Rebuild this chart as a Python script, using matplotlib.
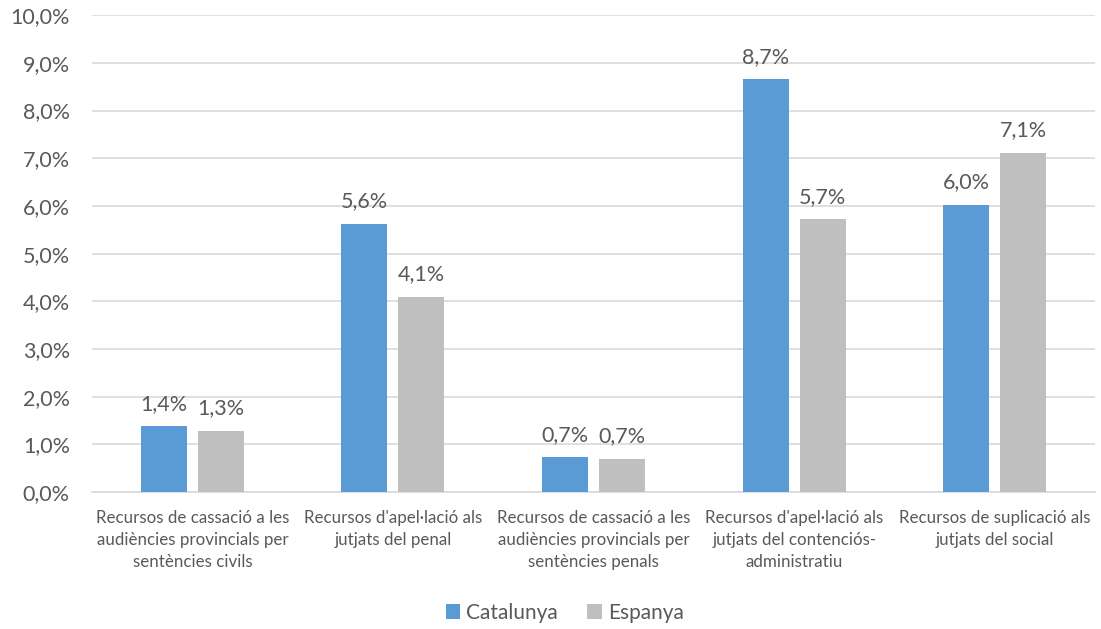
import numpy as np
import matplotlib
matplotlib.use("Agg")
import matplotlib.pyplot as plt
from matplotlib.ticker import FuncFormatter

# data (percent)
categories = [
    "Recursos de cassació a les\naudiències provincials per\nsentències civils",
    "Recursos d'apel·lació als\njutjats del penal",
    "Recursos de cassació a les\naudiències provincials per\nsentències penals",
    "Recursos d'apel·lació als\njutjats del contenciós-\nadministratiu",
    "Recursos de suplicació als\njutjats del social",
]
catalunya = [1.38, 5.62, 0.73, 8.66, 6.02]
espanya = [1.28, 4.09, 0.70, 5.72, 7.11]
series_names = ["Catalunya", "Espanya"]

BLUE = "#5B9BD5"
GREY = "#BFBFBF"
TEXT = "#595959"

plt.rcParams['font.family'] = ['Lato', 'DejaVu Sans']

fig = plt.figure(figsize=(11.01, 6.29), dpi=100)
ax = fig.add_axes([0.0836, 0.2178, 0.911, 0.758])

x = np.arange(len(categories))
w = 0.229
off = 0.142
b1 = ax.bar(x - off, catalunya, w, color=BLUE, label=series_names[0], zorder=3)
b2 = ax.bar(x + off, espanya, w, color=GREY, label=series_names[1], zorder=3)

for bars in (b1, b2):
    for r in bars:
        v = r.get_height()
        ax.annotate(f"{v:.1f}%".replace(".", ","),
                    (r.get_x() + r.get_width() / 2, v),
                    xytext=(0, 9), textcoords="offset points",
                    ha="center", va="bottom", fontsize=15.5, color=TEXT)

ax.set_xlim(-0.5, len(categories) - 0.5)
ax.set_ylim(0, 10)
ax.set_yticks(np.arange(0, 11, 1))
ax.yaxis.set_major_formatter(FuncFormatter(lambda v, p: f"{v:.1f}%".replace(".", ",")))
ax.set_xticks(x)
ax.set_xticklabels(categories, fontsize=12.2, color=TEXT, linespacing=1.45)
ax.tick_params(axis="y", labelsize=15.5, colors=TEXT, length=0, pad=16)
ax.tick_params(axis="x", length=0, pad=13)
ax.grid(axis="y", color="#D9D9D9", linewidth=1.2, zorder=0)
for s in ("top", "right", "left"):
    ax.spines[s].set_visible(False)
ax.spines["bottom"].set_color("#D9D9D9")
ax.spines["bottom"].set_linewidth(1.2)

fig.legend(handles=[b1, b2], loc="center", bbox_to_anchor=(0.513, 0.026), ncol=2,
           frameon=False, fontsize=15, labelcolor=TEXT, handlelength=0.7,
           handleheight=0.7, handletextpad=0.3, columnspacing=1.4)

fig.savefig("out.png", dpi=100, facecolor="white")
